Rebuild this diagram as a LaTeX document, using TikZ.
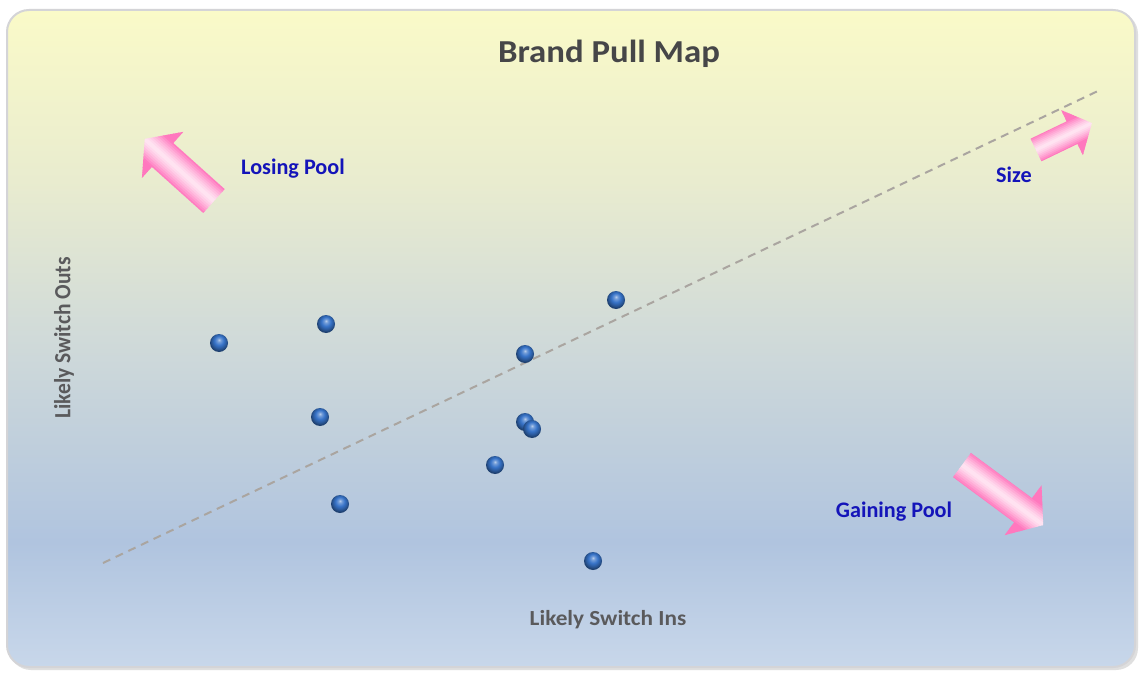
\documentclass[tikz,border=0pt]{standalone}
\usepackage{fontspec}
\setmainfont{Carlito}
\definecolor{pinkE}{RGB}{255,120,190}
\definecolor{pinkL}{RGB}{255,230,243}
\definecolor{labblue}{RGB}{20,20,185}
\definecolor{titlegray}{RGB}{70,70,72}
\definecolor{axisgray}{RGB}{90,90,92}
\definecolor{dashgray}{RGB}{170,165,160}
\definecolor{frameedge}{RGB}{212,212,215}
\definecolor{bgA}{RGB}{250,250,200}
\definecolor{bgB}{RGB}{233,236,207}
\definecolor{bgC}{RGB}{208,218,217}
\definecolor{bgD}{RGB}{176,196,223}
\definecolor{bgE}{RGB}{200,215,234}
\definecolor{ballB}{RGB}{55,115,200}
\pgfdeclareverticalshading{bgshade}{100bp}{color(0bp)=(bgE); color(25bp)=(bgE); color(34.5bp)=(bgD); color(50bp)=(bgC); color(62bp)=(bgB); color(75bp)=(bgA); color(100bp)=(bgA)}
\pgfdeclareradialshading{blueball}{\pgfpoint{0bp}{9bp}}{color(0bp)=(white!65!ballB); color(5bp)=(white!30!ballB); color(13bp)=(ballB); color(21bp)=(ballB!75!black); color(26bp)=(ballB!55!black); color(50bp)=(ballB!55!black)}
\newcommand\pinkarrow[7]{%
\begin{scope}[shift={(#1,#2)},rotate=#3]
 \begin{scope}
 \clip (0,-#5) -- (#4-#7,-#5) -- (#4-#7,-#6) -- (#4,0) -- (#4-#7,#6) -- (#4-#7,#5) -- (0,#5) -- cycle;
 \foreach \j in {0,...,29} {
   \pgfmathsetmacro\ya{-#6+\j*2*#6/30}
   \pgfmathsetmacro\yb{\ya+2*#6/30+0.6}
   \pgfmathsetmacro\tval{min(abs(\ya+#6/30)/#5,1)^1.3*100}
   \fill[pinkE!\tval!pinkL] (-1,\ya) rectangle (#4+1,\yb);
 }
 \end{scope}
\end{scope}}
\tikzset{
  dot/.style={circle,inner sep=0pt,minimum size=18pt,shading=blueball},
  lab/.style={font=\fontsize{22.2}{26}\selectfont\bfseries,text=labblue},
  axislab/.style={font=\fontsize{21.5}{25}\selectfont\bfseries,text=axisgray,xscale=1.08},
}
\begin{document}
\begin{tikzpicture}[x=1pt,y=-1pt]
\useasboundingbox (0,0) rectangle (1140,679);
\fill[white] (0,0) rectangle (1140,679);
% frame shadow and frame
\fill[gray!25,rounded corners=22pt] (9,12) rectangle (1138,670);
\draw[frameedge,line width=2pt,rounded corners=22pt,shading=bgshade] (7,10) rectangle (1135,667);
% dashed trend line
\coordinate (l1) at (103,563);
\coordinate (l2) at (1100,90);
\draw[dashgray,line width=2pt,dash pattern=on 8pt off 6pt] (l1) -- (l2);
% arrows
\pinkarrow{214}{201}{138.1}{93}{16}{31}{24}
\pinkarrow{1036}{150}{25.7}{62}{12.5}{25}{22}
\pinkarrow{962}{465}{-36.5}{101}{15}{31}{25}
% texts
\node[font=\fontsize{32}{38}\selectfont\bfseries,text=titlegray,xscale=1.087] (title) at (609,54) {Brand Pull Map};
\node[lab] (lose) at (293,169) {Losing Pool};
\node[lab] (size) at (1014,175) {Size};
\node[lab] (gain) at (894,512) {Gaining Pool};
\node[axislab] (xlab) at (608,620) {Likely Switch Ins};
\node[axislab,rotate=90] (ylab) at (64,338) {Likely Switch Outs};
% dots
\node[dot] (d1) at (616,300) {};
\node[dot] (d2) at (326,324) {};
\node[dot] (d3) at (219,343) {};
\node[dot] (d4) at (525,354) {};
\node[dot] (d5) at (320,417) {};
\node[dot] (d6) at (525,422) {};
\node[dot] (d7) at (532,429) {};
\node[dot] (d8) at (495,465) {};
\node[dot] (d9) at (340,504) {};
\node[dot] (d10) at (593,561) {};
\end{tikzpicture}
\end{document}
